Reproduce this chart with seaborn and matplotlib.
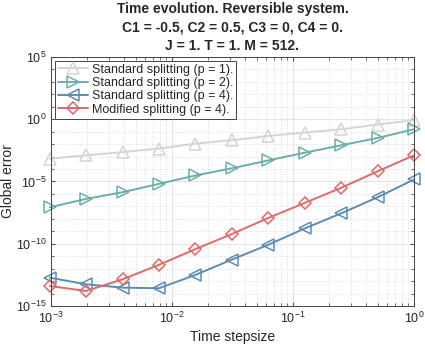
import numpy as np
import pandas as pd
import matplotlib
matplotlib.use("Agg")
import matplotlib.pyplot as plt
import seaborn as sns

# time step sizes (2^-10 ... 2^0)
stepsize = [0.000977, 0.00195, 0.00391, 0.00781, 0.0156, 0.03125, 0.0625, 0.125, 0.25, 0.5, 1.0]

# log10 of global error
log_err_p1 = [-3.17, -2.90, -2.64, -2.36, -1.96, -1.69, -1.35, -1.07, -0.81, -0.43, -0.08]
log_err_p2 = [-7.07, -6.40, -5.86, -5.19, -4.52, -3.94, -3.31, -2.69, -2.10, -1.51, -0.81]
log_err_p4 = [-12.72, -13.25, -13.52, -13.57, -12.50, -11.27, -10.08, -8.77, -7.56, -6.27, -4.84]
log_err_mod = [-13.39, -13.79, -12.85, -11.69, -10.43, -9.22, -7.93, -6.72, -5.51, -4.19, -2.90]

labels = ["Standard splitting (p = 1).", "Standard splitting (p = 2).",
          "Standard splitting (p = 4).", "Modified splitting (p = 4)."]
colors = ["#d4d4d4", "#6aaeac", "#5a8db5", "#e0686a"]
markers = ["^", ">", "<", "D"]

rows = []
for lab, vals in zip(labels, [log_err_p1, log_err_p2, log_err_p4, log_err_mod]):
    for x, v in zip(stepsize, vals):
        rows.append({"dt": x, "err": 10.0 ** v, "method": lab})
df = pd.DataFrame(rows)

sns.set_style("ticks")
plt.rcParams["font.family"] = ["Liberation Sans", "DejaVu Sans"]

fig = plt.figure(figsize=(4.25, 3.49), dpi=100)
ax = fig.add_axes([0.12, 0.123, 0.854, 0.714])

for lab, col, mk in zip(labels, colors, markers):
    sub = df[df["method"] == lab]
    ms = 6.5 if mk == "D" else 8
    sns.lineplot(data=sub, x="dt", y="err", ax=ax, color=col, marker=mk,
                 markersize=ms, markerfacecolor="none", markeredgecolor=col,
                 markeredgewidth=1.1, linewidth=1.4, label=lab, clip_on=False)

ax.set_xscale("log")
ax.set_yscale("log")
ax.set_xlim(1e-3, 1)
ax.set_ylim(1e-15, 1e5)
ax.set_yticks([1e-15, 1e-10, 1e-5, 1e0, 1e5])
ax.set_xticks([1e-3, 1e-2, 1e-1, 1e0])
ax.yaxis.set_minor_locator(matplotlib.ticker.LogLocator(base=10, subs=[1.0], numticks=30))
ax.yaxis.set_minor_formatter(matplotlib.ticker.NullFormatter())

ax.grid(True, which="major", color="#e3e3e3", linewidth=0.8)
ax.grid(True, which="minor", color="#dcdcdc", linestyle=":", linewidth=0.7)
ax.set_axisbelow(True)
ax.tick_params(which="both", direction="in", top=True, right=True, labelsize=9,
               color="#555555")
ax.tick_params(which="major", length=3)
ax.tick_params(which="minor", length=2)
for s in ax.spines.values():
    s.set_color("#444444")
    s.set_linewidth(0.7)

ax.set_xlabel("Time stepsize", fontsize=10, labelpad=3)
ax.set_ylabel("Global error", fontsize=10)
ax.yaxis.set_label_coords(-0.10, 0.5)
ax.set_title("Time evolution. Reversible system.\nC1 = -0.5, C2 = 0.5, C3 = 0, C4 = 0.\nJ = 1. T = 1. M = 512.",
             fontsize=10, fontweight="bold", pad=5, linespacing=1.4)

leg = ax.legend(loc="upper left", fontsize=9, frameon=True, fancybox=False,
                borderaxespad=0.3, handlelength=2.4, borderpad=0.25,
                labelspacing=0.1, handletextpad=0.3)
leg.get_frame().set_edgecolor("#444444")
leg.get_frame().set_linewidth(0.7)
leg.get_frame().set_alpha(1)

fig.savefig("out.png", dpi=100)
